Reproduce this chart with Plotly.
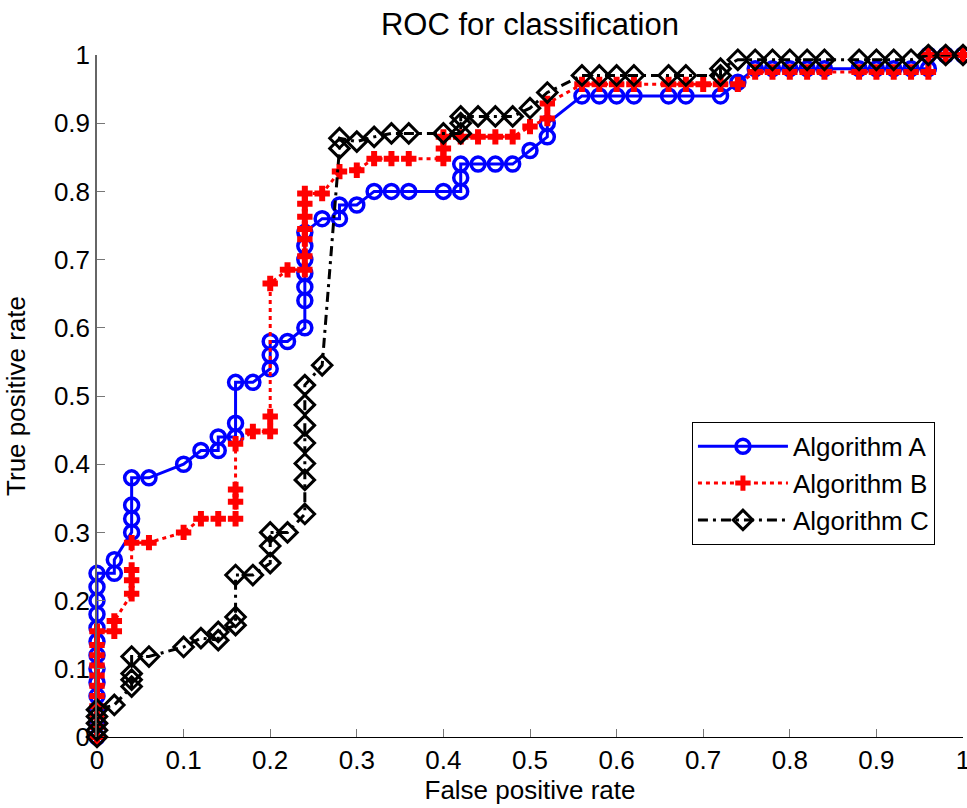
import plotly.graph_objects as go

# ---------------- data ----------------
title_text = "ROC for classification"
x_label = "False positive rate"
y_label = "True positive rate"
tick_vals = [0, 0.1, 0.2, 0.3, 0.4, 0.5, 0.6, 0.7, 0.8, 0.9, 1]
tick_text = ["0", "0.1", "0.2", "0.3", "0.4", "0.5", "0.6", "0.7", "0.8", "0.9", "1"]

names = ["Algorithm A", "Algorithm B", "Algorithm C"]

fpr_a = [0, 0, 0, 0, 0, 0, 0, 0, 0, 0, 0, 0, 0,
         0.02, 0.02, 0.04, 0.04, 0.04, 0.04,
         0.06, 0.10, 0.12, 0.14, 0.14, 0.16, 0.16, 0.16, 0.18, 0.20, 0.20, 0.20, 0.22,
         0.24, 0.24, 0.24, 0.24, 0.24, 0.24, 0.24, 0.26, 0.28, 0.28, 0.30,
         0.32, 0.34, 0.36, 0.40, 0.42, 0.42, 0.42, 0.44, 0.46, 0.48, 0.50, 0.52, 0.52,
         0.56, 0.58, 0.60, 0.62, 0.66, 0.68, 0.72, 0.74,
         0.76, 0.78, 0.80, 0.82, 0.84, 0.88, 0.90, 0.92, 0.94, 0.96, 0.96, 0.98, 1.0]
tpr_a = [0, 0.02, 0.04, 0.06, 0.08, 0.10, 0.12, 0.14, 0.16, 0.18, 0.20, 0.22, 0.24,
         0.24, 0.26, 0.30, 0.32, 0.34, 0.38,
         0.38, 0.40, 0.42, 0.42, 0.44, 0.44, 0.46, 0.52, 0.52, 0.54, 0.56, 0.58, 0.58,
         0.60, 0.64, 0.66, 0.68, 0.70, 0.72, 0.74, 0.76, 0.76, 0.78, 0.78,
         0.80, 0.80, 0.80, 0.80, 0.80, 0.82, 0.84, 0.84, 0.84, 0.84, 0.86, 0.88, 0.90,
         0.94, 0.94, 0.94, 0.94, 0.94, 0.94, 0.94, 0.96,
         0.98, 0.98, 0.98, 0.98, 0.98, 0.98, 0.98, 0.98, 0.98, 0.98, 1.0, 1.0, 1.0]

fpr_b = [0, 0, 0, 0, 0, 0, 0, 0, 0, 0, 0,
         0.02, 0.02, 0.04, 0.04, 0.04, 0.04, 0.06, 0.10, 0.12, 0.14, 0.16, 0.16, 0.16, 0.16,
         0.18, 0.20, 0.20, 0.20, 0.22, 0.24, 0.24, 0.24, 0.24, 0.24, 0.24, 0.24, 0.26,
         0.28, 0.30, 0.32, 0.34, 0.36, 0.40, 0.40, 0.40, 0.42, 0.44, 0.46, 0.48, 0.50,
         0.52, 0.52, 0.56, 0.58, 0.60, 0.62, 0.66, 0.68, 0.70, 0.72, 0.74,
         0.76, 0.78, 0.80, 0.82, 0.84, 0.88, 0.90, 0.92, 0.94, 0.96, 0.96, 0.98, 1.0]
tpr_b = [0, 0.015, 0.03, 0.045, 0.06, 0.075, 0.09, 0.105, 0.12, 0.135, 0.155,
         0.155, 0.17, 0.21, 0.23, 0.245, 0.285, 0.285, 0.30, 0.32, 0.32, 0.32, 0.345, 0.363, 0.43,
         0.448, 0.448, 0.47, 0.665, 0.685, 0.685, 0.705, 0.73, 0.745, 0.763, 0.782, 0.797, 0.797,
         0.829, 0.831, 0.848, 0.848, 0.848, 0.848, 0.863, 0.88, 0.88, 0.88, 0.88, 0.88, 0.895,
         0.907, 0.929, 0.957, 0.957, 0.957, 0.957, 0.957, 0.957, 0.957, 0.957, 0.957,
         0.975, 0.975, 0.975, 0.975, 0.975, 0.975, 0.975, 0.975, 0.975, 0.975, 1.0, 1.0, 1.0]

fpr_c = [0, 0, 0, 0, 0,
         0.02, 0.04, 0.04, 0.04, 0.04, 0.06, 0.10, 0.12, 0.14, 0.14, 0.16, 0.16, 0.16,
         0.18, 0.20, 0.20, 0.20, 0.22, 0.24, 0.24, 0.24, 0.24, 0.24, 0.24, 0.24, 0.26,
         0.28, 0.28, 0.30, 0.32, 0.34, 0.36, 0.40, 0.42, 0.42, 0.42, 0.44, 0.46, 0.48,
         0.50, 0.52, 0.56, 0.58, 0.60, 0.62, 0.66, 0.68, 0.72, 0.72,
         0.74, 0.76, 0.78, 0.80, 0.82, 0.84, 0.88, 0.90, 0.92, 0.94, 0.96, 0.98, 1.0]
tpr_c = [0, 0.01, 0.02, 0.03, 0.04,
         0.047, 0.074, 0.084, 0.093, 0.118, 0.118, 0.132, 0.145, 0.142, 0.154, 0.164, 0.176, 0.2375,
         0.2375, 0.255, 0.28, 0.30, 0.30, 0.327, 0.377, 0.401, 0.431, 0.457, 0.487, 0.516, 0.545,
         0.863, 0.878, 0.873, 0.88, 0.885, 0.885, 0.885, 0.885, 0.90, 0.91, 0.91, 0.91, 0.91,
         0.922, 0.945, 0.97, 0.97, 0.97, 0.97, 0.97, 0.97, 0.97, 0.98,
         0.993, 0.993, 0.993, 0.993, 0.993, 0.993, 0.993, 0.993, 0.993, 0.993, 1.0, 1.0, 1.0]

# ---------------- figure ----------------
FONT = "Liberation Sans, Arial, sans-serif"

fig = go.Figure()

fig.add_trace(go.Scatter(
    x=fpr_a, y=tpr_a, name=names[0], mode="lines+markers", cliponaxis=False,
    line=dict(color="#0000FF", width=3),
    marker=dict(symbol="circle-open", size=14, color="#0000FF",
                line=dict(color="#0000FF", width=3.5)),
))
fig.add_trace(go.Scatter(
    x=fpr_b, y=tpr_b, name=names[1], mode="lines+markers", cliponaxis=False,
    line=dict(color="#FF0000", width=3, dash="4px,4px"),
    marker=dict(symbol="cross-thin-open", size=11, color="#FF0000",
                line=dict(color="#FF0000", width=6)),
))
fig.add_trace(go.Scatter(
    x=fpr_c, y=tpr_c, name=names[2], mode="lines+markers", cliponaxis=False,
    line=dict(color="#000000", width=3, dash="10px,5px,3px,5px"),
    marker=dict(symbol="diamond-open", size=15, color="#000000",
                line=dict(color="#000000", width=3)),
))

axis_common = dict(
    range=[0, 1], tickvals=tick_vals, ticktext=tick_text, automargin=False,
    ticks="inside", ticklen=8, tickcolor="#777777", tickwidth=1,
    showgrid=False, zeroline=False, showline=True, mirror=False,
    ticklabeloverflow="allow",
    tickfont=dict(family=FONT, size=26, color="#000000"),
)

fig.update_layout(
    width=967, height=808,
    paper_bgcolor="white", plot_bgcolor="white",
    margin=dict(l=97, r=4, t=55, b=71),
    title=dict(text=title_text, x=0.548, xanchor="center", y=0.970, yanchor="middle",
               yref="container",
               font=dict(family=FONT, size=31, color="#000000")),
    xaxis=dict(**axis_common, linecolor="#000000", linewidth=1,
               title=dict(text=x_label, standoff=6,
                          font=dict(family=FONT, size=26, color="#000000"))),
    yaxis=dict(**axis_common, linecolor="#666666", linewidth=1.5,
               title=dict(text=y_label, standoff=21,
                          font=dict(family=FONT, size=26, color="#000000"))),
    legend=dict(x=0.687, y=0.462, xanchor="left", yanchor="top",
                bgcolor="white", bordercolor="#000000", borderwidth=1,
                font=dict(family=FONT, size=26, color="#000000"),
                itemwidth=90, tracegroupgap=0),
    showlegend=True,
)

fig.write_html("out.html",
               config={"displayModeBar": False},
               post_script="document.body.style.margin='0px';document.body.style.overflow='hidden';")
